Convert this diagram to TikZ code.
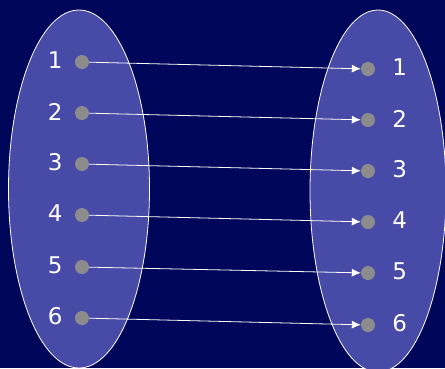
\documentclass[tikz,border=0pt]{standalone}
\usepackage{fontspec}
\setmainfont{DejaVu Sans}
\usetikzlibrary{shapes.geometric, positioning, arrows.meta}

\definecolor{bgnavy}{RGB}{0,6,90}
\definecolor{setblue}{RGB}{72,74,168}
\definecolor{dotgray}{RGB}{140,140,140}

\tikzset{
    setshape/.style={ellipse, draw=white, line width=0.8pt, fill=setblue, inner sep=0pt},
    elem/.style={circle, fill=dotgray, minimum size=14pt, inner sep=0pt},
    lbl/.style={text=white, inner sep=0pt, yshift=1.5pt, font=\fontsize{23}{27}\selectfont},
    maparrow/.style={-{Latex[length=9pt, width=8pt]}, draw=white, line width=0.8pt}
}

\begin{document}
\begin{tikzpicture}[x=1pt, y=-1pt]
    \fill[bgnavy] (0,0) rectangle (445,368);
    \useasboundingbox (0,0) rectangle (445,368);

    % the two sets
    \node[setshape, minimum width=141pt, minimum height=358pt] (domain) at (79,189) {};
    \node[setshape, minimum width=136pt, minimum height=362pt] (codomain) at (378,191) {};

    % left elements
    \node[elem] (a1) at (82,62) {};
    \node[elem] (a2) at (82,113) {};
    \node[elem] (a3) at (82,164) {};
    \node[elem] (a4) at (82,215) {};
    \node[elem] (a5) at (82,267) {};
    \node[elem] (a6) at (82,318) {};
    \node[lbl, left=12pt of a1] (la1) {1};
    \node[lbl, left=12pt of a2] (la2) {2};
    \node[lbl, left=12pt of a3] (la3) {3};
    \node[lbl, left=12pt of a4] (la4) {4};
    \node[lbl, left=12pt of a5] (la5) {5};
    \node[lbl, left=12pt of a6] (la6) {6};

    % right elements
    \node[elem] (b1) at (368,69) {};
    \node[elem] (b2) at (368,120) {};
    \node[elem] (b3) at (368,171) {};
    \node[elem] (b4) at (368,222) {};
    \node[elem] (b5) at (368,273) {};
    \node[elem] (b6) at (368,325) {};
    \node[lbl, right=17pt of b1] (lb1) {1};
    \node[lbl, right=17pt of b2] (lb2) {2};
    \node[lbl, right=17pt of b3] (lb3) {3};
    \node[lbl, right=17pt of b4] (lb4) {4};
    \node[lbl, right=17pt of b5] (lb5) {5};
    \node[lbl, right=17pt of b6] (lb6) {6};

    % mapping
    \draw[maparrow] (a1) -- (b1);
    \draw[maparrow] (a2) -- (b2);
    \draw[maparrow] (a3) -- (b3);
    \draw[maparrow] (a4) -- (b4);
    \draw[maparrow] (a5) -- (b5);
    \draw[maparrow] (a6) -- (b6);
\end{tikzpicture}
\end{document}
